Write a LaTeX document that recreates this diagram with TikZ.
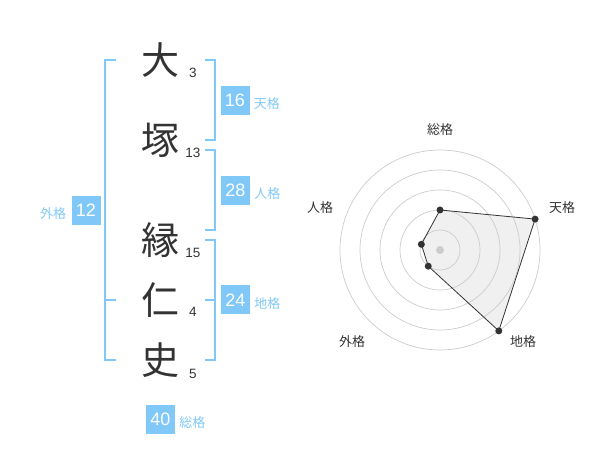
\documentclass[tikz,border=0pt]{standalone}
\usepackage{fontspec}
\usetikzlibrary{calc}
\setmainfont{Liberation Sans}
\newfontfamily\jp{Noto Sans CJK JP}
\definecolor{lblue}{RGB}{128,200,248}
\definecolor{dark}{RGB}{51,51,51}
\definecolor{ring}{RGB}{204,204,204}
\begin{document}
\begin{tikzpicture}[x=1pt,y=-1pt,
  kanji/.style={inner sep=0pt,font=\jp\fontsize{38}{38}\selectfont,text=dark},
  strokes/.style={inner sep=0pt,anchor=base,font=\fontsize{13.5}{14}\selectfont,text=dark},
  bracket/.style={draw=lblue,line width=2pt},
  valbox/.style={fill=lblue,text=white,minimum size=29pt,inner sep=0pt,font=\fontsize{18}{18}\selectfont},
  vallabel/.style={inner sep=0pt,text=lblue,font=\jp\fontsize{13}{13}\selectfont},
  axislabel/.style={inner sep=0pt,text=dark,font=\jp\fontsize{13}{13}\selectfont},
  dot/.style={circle,fill=dark,inner sep=0pt,minimum size=7pt}]
\useasboundingbox (0,0) rectangle (600,470);
% kanji
\node[kanji] (k1) at (160,60) {大};
\node[kanji] (k2) at (160,140) {塚};
\node[kanji] (k3) at (160,240) {縁};
\node[kanji] (k4) at (160,300) {仁};
\node[kanji] (k5) at (160,360) {史};
% stroke counts
\node[strokes] (n1) at (193,78) {3};
\node[strokes] (n2) at (193,158) {13};
\node[strokes] (n3) at (193,258) {15};
\node[strokes] (n4) at (193,317) {4};
\node[strokes] (n5) at (193,378) {5};
% brackets
\draw[bracket] (116,60) -- (105,60) -- (105,360) -- (116,360);
\draw[bracket] (105,300) -- (116,300);
\draw[bracket] (205,60) -- (214.5,60) -- (214.5,140) -- (205,140);
\draw[bracket] (205,150) -- (214.5,150) -- (214.5,230) -- (205,230);
\draw[bracket] (205,240) -- (214.5,240) -- (214.5,360) -- (205,360);
\draw[bracket] (205,300) -- (214.5,300);
% value boxes
\node[valbox] (b1) at (235,100.5) {16};
\node[vallabel,anchor=west] (l1) at ([xshift=4pt,yshift=-3.5pt]b1.east) {天格};
\node[valbox] (b2) at (235.5,190.5) {28};
\node[vallabel,anchor=west] (l2) at ([xshift=4pt,yshift=-3.5pt]b2.east) {人格};
\node[valbox] (b3) at (235.5,300) {24};
\node[vallabel,anchor=west] (l3) at ([xshift=4pt,yshift=-3.5pt]b3.east) {地格};
\node[valbox] (b4) at (86,210.3) {12};
\node[vallabel,anchor=east] (l4) at ([xshift=-5pt,yshift=-3pt]b4.west) {外格};
\node[valbox] (b5) at (160.5,419) {40};
\node[vallabel,anchor=west] (l5) at ([xshift=4pt,yshift=-3.5pt]b5.east) {総格};
% radar
\coordinate (c) at (440,250);
\coordinate (p1) at ($(c)+(-90:40)$);
\coordinate (p2) at ($(c)+(-18:100)$);
\coordinate (p3) at ($(c)+(54:100)$);
\coordinate (p4) at ($(c)+(126:20)$);
\coordinate (p5) at ($(c)+(197:19.5)$);
\fill[fill=black!6] (p1) -- (p2) -- (p3) -- (p4) -- (p5) -- cycle;
\foreach \r in {20,40,60,80,100} \draw[ring,line width=0.7pt] (c) circle[radius=\r];
\draw[dark,line width=0.8pt] (p1) -- (p2) -- (p3) -- (p4) -- (p5) -- cycle;
\fill[ring] (c) circle[radius=4];
\foreach \i in {1,...,5} \node[dot] (d\i) at (p\i) {};
\node[axislabel] (a1) at (440,130) {総格};
\node[axislabel] (a2) at (562,208) {天格};
\node[axislabel] (a3) at (523,342) {地格};
\node[axislabel] (a4) at (352,342) {外格};
\node[axislabel] (a5) at (320,208) {人格};
\end{tikzpicture}
\end{document}
